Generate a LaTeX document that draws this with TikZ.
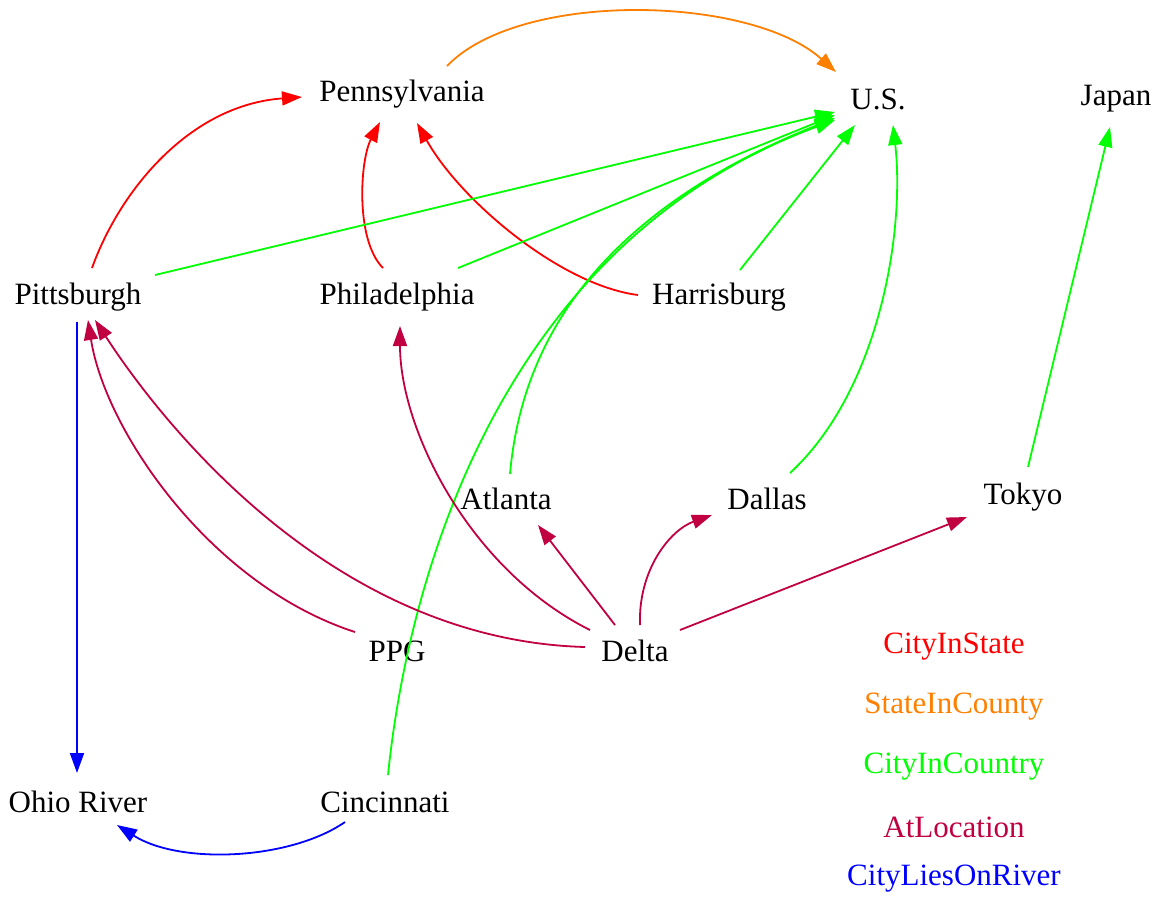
\documentclass[tikz,border=0pt]{standalone}
\usepackage{fontspec}
\setmainfont{Liberation Serif}
\usetikzlibrary{arrows.meta,calc}
\definecolor{cstate}{RGB}{255,0,0}
\definecolor{ccounty}{RGB}{255,128,0}
\definecolor{ccountry}{RGB}{0,255,0}
\definecolor{cloc}{RGB}{192,0,64}
\definecolor{criver}{RGB}{0,0,255}
\tikzset{
  lbl/.style={inner sep=0pt, font=\fontsize{15.5pt}{18pt}\selectfont},
  edge/.style={line width=0.9pt, -{Triangle[length=10pt,width=7pt]}},
  instate/.style={edge, color=cstate},
  incounty/.style={edge, color=ccounty},
  incountry/.style={edge, color=ccountry},
  atloc/.style={edge, color=cloc},
  onriver/.style={edge, color=criver}
}
\begin{document}
\begin{tikzpicture}[x=0.5pt,y=-0.5pt]
\useasboundingbox (0,0) rectangle (1162,896);
% nodes
\node[lbl] (penn) at (402,94) {Pennsylvania};
\node[lbl] (us) at (878,99) {U.S.};
\node[lbl] (japan) at (1116,99) {Japan};
\node[lbl] (pitt) at (78,297) {Pittsburgh};
\node[lbl] (phil) at (397,297) {Philadelphia};
\node[lbl] (harr) at (719,297) {Harrisburg};
\node[lbl] (atl) at (506,499) {Atlanta};
\node[lbl] (dal) at (767,499) {Dallas};
\node[lbl] (tok) at (1023,497) {Tokyo};
\node[lbl] (ppg) at (397,651) {PPG};
\node[lbl] (delta) at (635,651) {Delta};
\node[lbl] (ohio) at (78,802) {Ohio River};
\node[lbl] (cin) at (385,802) {Cincinnati};
% legend
\node[lbl, text=cstate] (lg1) at (954,647) {CityInState};
\node[lbl, text=ccounty] (lg2) at (954,707) {StateInCounty};
\node[lbl, text=ccountry] (lg3) at (954,767) {CityInCountry};
\node[lbl, text=cloc] (lg4) at (954,827) {AtLocation};
\node[lbl, text=criver] (lg5) at (954,879) {CityLiesOnRiver};
% CityInState
\draw[instate] ($(pitt)+(14,-29)$) .. controls (120,190) and (190,105) .. ($(penn)+(-100,3)$);
\draw[instate] ($(phil)+(-14,-29)$) .. controls (355,240) and (360,160) .. ($(penn)+(-22,28)$);
\draw[instate] ($(harr)+(-81,-2)$) .. controls (560,285) and (460,200) .. ($(penn)+(15,29)$);
% StateInCounty
\draw[incounty] ($(penn)+(45,-28)$) .. controls (520,-10) and (750,-5) .. ($(us)+(-42,-27)$);
% CityInCountry
\draw[incountry] ($(pitt)+(77,-22)$) -- ($(us)+(-43,13)$);
\draw[incountry] ($(phil)+(61,-29)$) -- ($(us)+(-43,16)$);
\draw[incountry] ($(atl)+(4,-25)$) .. controls (520,360) and (580,220) .. ($(us)+(-43,19)$);
\draw[incountry] ($(cin)+(3,-27)$) .. controls (410,560) and (510,240) .. ($(us)+(-43,21)$);
\draw[incountry] ($(harr)+(21,-27)$) -- ($(us)+(-23,26)$);
\draw[incountry] ($(dal)+(23,-26)$) .. controls (880,390) and (905,230) .. ($(us)+(15,26)$);
\draw[incountry] ($(tok)+(5,-30)$) -- ($(japan)+(-6,28)$);
% AtLocation
\draw[atloc] ($(ppg)+(-42,-19)$) .. controls (210,585) and (105,430) .. ($(pitt)+(10,23)$);
\draw[atloc] ($(delta)+(-50,-4)$) .. controls (330,640) and (160,420) .. ($(pitt)+(17,23)$);
\draw[atloc] ($(delta)+(-45,-21)$) .. controls (470,570) and (400,430) .. ($(phil)+(3,29)$);
\draw[atloc] ($(delta)+(-20,-26)$) -- ($(atl)+(32,26)$);
\draw[atloc] ($(delta)+(5,-26)$) .. controls (638,570) and (670,530) .. ($(dal)+(-55,16)$);
\draw[atloc] ($(delta)+(45,-21)$) -- ($(tok)+(-56,20)$);
% CityLiesOnRiver
\draw[onriver] ($(pitt)+(-1,25)$) -- ($(ohio)+(-1,-29)$);
\draw[onriver] ($(cin)+(-40,20)$) .. controls (290,860) and (180,865) .. ($(ohio)+(39,23)$);
\end{tikzpicture}
\end{document}
